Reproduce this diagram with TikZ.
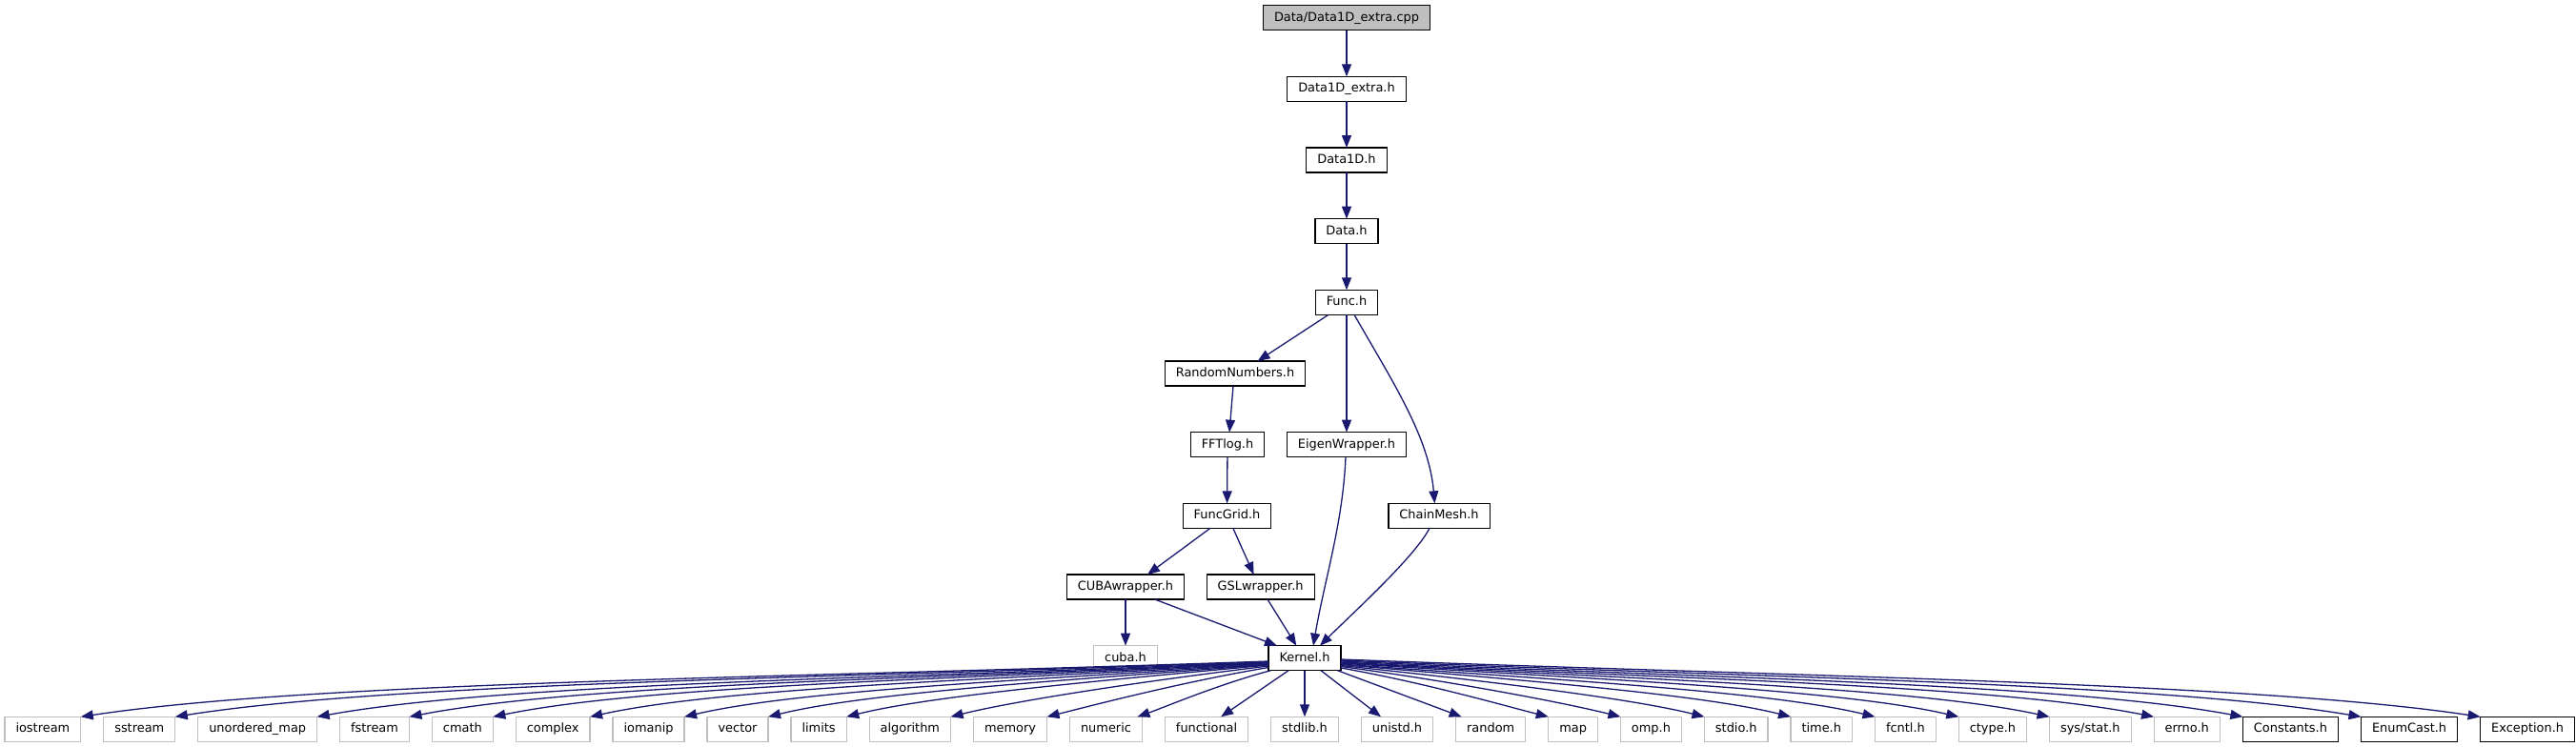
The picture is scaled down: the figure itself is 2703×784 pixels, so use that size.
\documentclass[tikz,border=0pt]{standalone}
\usepackage{fontspec}
\setmainfont{DejaVu Sans}
\usetikzlibrary{arrows.meta}
\definecolor{edgeblue}{HTML}{191970}
\definecolor{greyseventyfive}{HTML}{BFBFBF}
\begin{document}
\begin{tikzpicture}[x=1pt,y=-1pt,
  box/.style={draw=black, line width=1.2pt, fill=white, minimum height=26pt,
    inner xsep=11.5pt, inner ysep=0pt, text height=9.6pt, text depth=2.6pt,
    outer sep=0pt, font=\fontsize{12.92pt}{15pt}\selectfont},
  rootbox/.style={box, fill=greyseventyfive},
  sysbox/.style={box, draw=greyseventyfive},
  edge/.style={draw=edgeblue, line width=1.3pt, -{Triangle[length=13pt,width=10pt]}},
]
\useasboundingbox (0,0) rectangle (2703,784);

% upper nodes
\node[rootbox] (root) at (1413,18.7) {Data/Data1D\_extra.cpp};
\node[box] (d1e) at (1413,93.3) {Data1D\_extra.h};
\node[box] (d1) at (1413,168) {Data1D.h};
\node[box] (data) at (1413,242.7) {Data.h};
\node[box] (func) at (1413,317.3) {Func.h};
\node[box] (rnd) at (1296,392) {RandomNumbers.h};
\node[box] (fft) at (1288,466.7) {FFTlog.h};
\node[box] (eig) at (1413,466.7) {EigenWrapper.h};
\node[box] (fgrid) at (1287.5,541.3) {FuncGrid.h};
\node[box] (cmesh) at (1510,541.3) {ChainMesh.h};
\node[box] (cuba) at (1181,616) {CUBAwrapper.h};
\node[box] (gsl) at (1322.6,616) {GSLwrapper.h};
\node[sysbox] (cubah) at (1181,690.7) {cuba.h};
\node[box] (kern) at (1369,690.7) {Kernel.h};

% bottom row
\node[sysbox, anchor=west] (iostream) at (5,765.3) {iostream};
\node[sysbox, anchor=west] (sstream) at ([xshift=24pt]iostream.east) {sstream};
\node[sysbox, anchor=west] (umap) at ([xshift=24pt]sstream.east) {unordered\_map};
\node[sysbox, anchor=west] (fstream) at ([xshift=24pt]umap.east) {fstream};
\node[sysbox, anchor=west] (cmath) at ([xshift=24pt]fstream.east) {cmath};
\node[sysbox, anchor=west] (complex) at ([xshift=24pt]cmath.east) {complex};
\node[sysbox, anchor=west] (iomanip) at ([xshift=24pt]complex.east) {iomanip};
\node[sysbox, anchor=west] (vector) at ([xshift=24pt]iomanip.east) {vector};
\node[sysbox, anchor=west] (limits) at ([xshift=24pt]vector.east) {limits};
\node[sysbox, anchor=west] (algorithm) at ([xshift=24pt]limits.east) {algorithm};
\node[sysbox, anchor=west] (memory) at ([xshift=24pt]algorithm.east) {memory};
\node[sysbox, anchor=west] (numeric) at ([xshift=24pt]memory.east) {numeric};
\node[sysbox, anchor=west] (functional) at ([xshift=24pt]numeric.east) {functional};
\node[sysbox, anchor=west] (stdlib) at ([xshift=24pt]functional.east) {stdlib.h};
\node[sysbox, anchor=west] (unistd) at ([xshift=24pt]stdlib.east) {unistd.h};
\node[sysbox, anchor=west] (random) at ([xshift=24pt]unistd.east) {random};
\node[sysbox, anchor=west] (map) at ([xshift=24pt]random.east) {map};
\node[sysbox, anchor=west] (omp) at ([xshift=24pt]map.east) {omp.h};
\node[sysbox, anchor=west] (stdio) at ([xshift=24pt]omp.east) {stdio.h};
\node[sysbox, anchor=west] (time) at ([xshift=24pt]stdio.east) {time.h};
\node[sysbox, anchor=west] (fcntl) at ([xshift=24pt]time.east) {fcntl.h};
\node[sysbox, anchor=west] (ctype) at ([xshift=24pt]fcntl.east) {ctype.h};
\node[sysbox, anchor=west] (sysstat) at ([xshift=24pt]ctype.east) {sys/stat.h};
\node[sysbox, anchor=west] (errno) at ([xshift=24pt]sysstat.east) {errno.h};
\node[box, anchor=west] (constants) at ([xshift=24pt]errno.east) {Constants.h};
\node[box, anchor=west] (enumcast) at ([xshift=24pt]constants.east) {EnumCast.h};
\node[box, anchor=west] (exception) at ([xshift=24pt]enumcast.east) {Exception.h};

% upper edges
\draw[edge] (root) -- (d1e);
\draw[edge] (d1e) -- (d1);
\draw[edge] (d1) -- (data);
\draw[edge] (data) -- (func);
\draw[edge] ([xshift=-19pt]func.south) -- ([xshift=23.6pt]rnd.north);
\draw[edge] (func) -- (eig);
\draw[edge] ([xshift=8pt]func.south) .. controls +(40,70) and +(-6,-70) .. ([xshift=-4.6pt]cmesh.north);
\draw[edge] ([xshift=-2pt]rnd.south) -- ([xshift=2pt]fft.north);
\draw[edge] (fft) -- (fgrid);
\draw[edge] ([xshift=-17.5pt]fgrid.south) -- ([xshift=23pt]cuba.north);
\draw[edge] ([xshift=6.3pt]fgrid.south) -- ([xshift=-7pt]gsl.north);
\draw[edge] ([xshift=-1pt]eig.south) .. controls +(-3,70) and +(12,-70) .. ([xshift=9pt]kern.north);
\draw[edge] ([xshift=-10pt]cmesh.south) .. controls +(-15,30) and +(30,-30) .. ([xshift=16pt]kern.north);
\draw[edge] ([xshift=7.4pt]gsl.south) -- ([xshift=-8.7pt]kern.north);
\draw[edge] ([xshift=30.6pt]cuba.south) -- ([xshift=-29pt]kern.north);
\draw[edge] (cuba) -- (cubah);

% Kernel.h to the left
\draw[edge] ([yshift=-3.3pt]kern.west) .. controls +(-498.2,17.5) and +(249.1,-37.4) .. (iostream.north east);
\draw[edge] ([yshift=-3.8pt]kern.west) .. controls +(-458.5,17.3) and +(229.3,-36.2) .. (sstream.north east);
\draw[edge] ([yshift=-4.3pt]kern.west) .. controls +(-398.8,17.2) and +(199.4,-35.7) .. (umap.north east);
\draw[edge] ([yshift=-4.8pt]kern.west) .. controls +(-359.9,17.0) and +(180,-34.7) .. (fstream.north east);
\draw[edge] ([yshift=-5.3pt]kern.west) .. controls +(-324.8,16.9) and +(162.4,-33.3) .. (cmath.north east);
\draw[edge] ([yshift=-5.8pt]kern.west) .. controls +(-284,16.7) and +(142,-31.2) .. (complex.north east);
\draw[edge] ([yshift=-6.3pt]kern.west) .. controls +(-244.4,16.6) and +(122.2,-28.6) .. (iomanip.north east);
\draw[edge] ([yshift=-6.8pt]kern.west) .. controls +(-209.2,16.4) and +(104.6,-25.8) .. (vector.north east);
\draw[edge] ([yshift=-7.3pt]kern.west) .. controls +(-176.3,16.3) and +(88.2,-22) .. (limits.north east);
\draw[edge] ([yshift=-8.3pt]kern.west) .. controls +(-132.6,16) and +(66.3,-16.6) .. (algorithm.north east);
\draw[edge] ([yshift=-9.8pt]kern.west) .. controls +(-92.2,15.5) and +(46.1,-11.5) .. (memory.north east);
\draw[edge] ([xshift=2.4pt]kern.south west) .. controls +(-55.2,14.6) and +(27.6,-9.7) .. ([xshift=-5pt]numeric.north east);
\draw[edge] ([xshift=21pt]kern.south west) -- ([xshift=15pt]functional.north);
\draw[edge] (kern.south) -- (kern.south |- stdlib.north);
\draw[edge] ([xshift=17pt]kern.south) -- ([xshift=-17pt]unistd.north);
\draw[edge] ([xshift=-3.4pt]kern.south east) -- ([xshift=6pt]random.north west);

% Kernel.h to the right
\draw[edge] ([yshift=-10.3pt]kern.east) .. controls +(87.6,15.4) and +(-43.8,-11) .. (map.north west);
\draw[edge] ([yshift=-8.8pt]kern.east) .. controls +(117.9,15.8) and +(-59,-14.7) .. (omp.north west);
\draw[edge] ([yshift=-7.8pt]kern.east) .. controls +(153.1,16.1) and +(-76.6,-19.1) .. (stdio.north west);
\draw[edge] ([yshift=-6.8pt]kern.east) .. controls +(189.4,16.4) and +(-94.7,-23.7) .. (time.north west);
\draw[edge] ([yshift=-6.3pt]kern.east) .. controls +(224.8,16.6) and +(-112.4,-27.1) .. (fcntl.north west);
\draw[edge] ([yshift=-5.3pt]kern.east) .. controls +(260,16.9) and +(-130,-29.8) .. (ctype.north west);
\draw[edge] ([yshift=-4.8pt]kern.east) .. controls +(298.1,17) and +(-149,-32) .. (sysstat.north west);
\draw[edge] ([yshift=-4.3pt]kern.east) .. controls +(341.9,17.2) and +(-170.9,-34) .. (errno.north west);
\draw[edge] ([yshift=-3.3pt]kern.east) .. controls +(379.5,17.5) and +(-189.7,-35.3) .. (constants.north west);
\draw[edge] ([yshift=-2.3pt]kern.east) .. controls +(429.1,17.8) and +(-214.6,-36) .. (enumcast.north west);
\draw[edge] ([yshift=-1.3pt]kern.east) .. controls +(479.2,18.1) and +(-239.6,-35.9) .. (exception.north west);
\end{tikzpicture}
\end{document}
